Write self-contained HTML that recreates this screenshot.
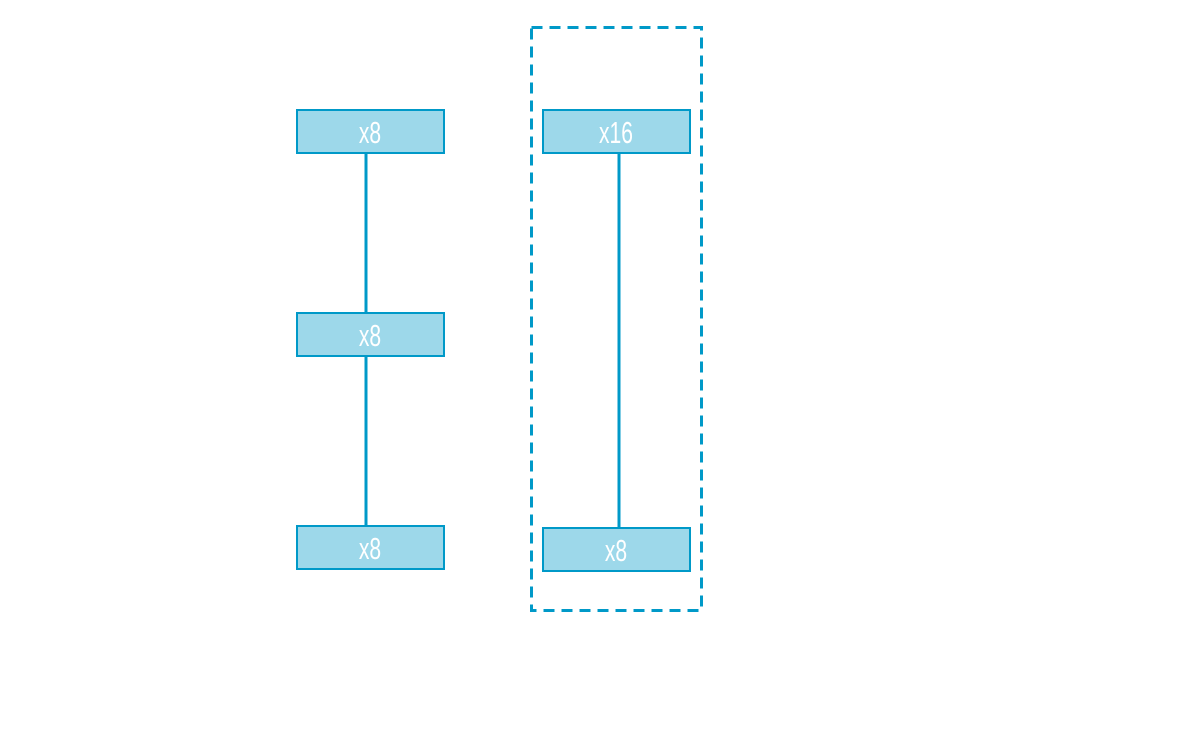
<!DOCTYPE html>
<html><head><meta charset="utf-8"><style>
html,body{margin:0;padding:0;background:#fff;width:1200px;height:750px;overflow:hidden}
</style></head><body>
<svg width="1200" height="750" xmlns="http://www.w3.org/2000/svg">
<rect x="531.5" y="27.5" width="170" height="583" fill="none" stroke="#0099c8" stroke-width="3" stroke-dasharray="11,7"/>
<g stroke="#0099c8" stroke-width="3">
<line x1="366" y1="153" x2="366" y2="313"/>
<line x1="366" y1="356" x2="366" y2="526"/>
<line x1="619" y1="153" x2="619" y2="528"/>
</g>
<g fill="#9dd8ea" stroke="#0099c8" stroke-width="2">
<rect x="297" y="110" width="147" height="43"/>
<rect x="297" y="313" width="147" height="43"/>
<rect x="297" y="526" width="147" height="43"/>
<rect x="543" y="110" width="147" height="43"/>
<rect x="543" y="528" width="147" height="43"/>
</g>
<g fill="#fff" font-family="Liberation Sans, sans-serif" font-size="31" text-anchor="middle">
<text transform="translate(370,143) scale(0.68,1)">x8</text>
<text transform="translate(370,346) scale(0.68,1)">x8</text>
<text transform="translate(370,559) scale(0.68,1)">x8</text>
<text transform="translate(616,143) scale(0.68,1)">x16</text>
<text transform="translate(616,561) scale(0.68,1)">x8</text>
</g>
</svg>
</body></html>
